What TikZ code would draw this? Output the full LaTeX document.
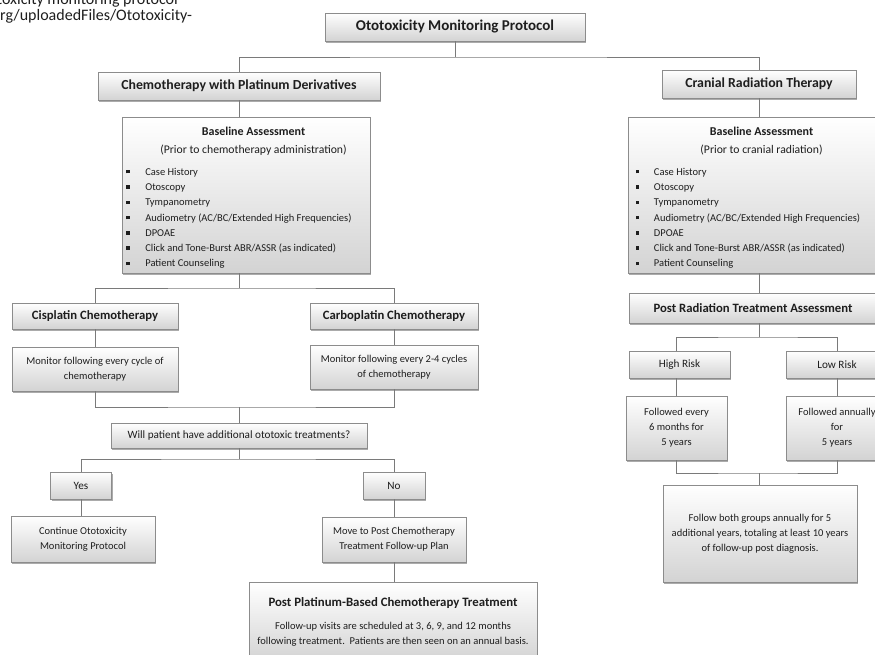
\documentclass[tikz,border=0pt]{standalone}
\usepackage{fontspec}
\setmainfont{Carlito}
\usepackage{tikz}
\usetikzlibrary{calc,shadows}
\definecolor{linegray}{HTML}{7A7A7A}
\definecolor{boxline}{HTML}{8C8C8C}
\definecolor{boxlow}{HTML}{D3D3D3}
\definecolor{inktext}{HTML}{1E1E1E}
\newcommand{\blt}{\rule[1.8pt]{3.4pt}{3.4pt}}

\begin{document}
\begin{tikzpicture}[x=1pt, y=-1pt,
  box/.style={draw=boxline, line width=0.7pt, top color=white, bottom color=boxlow, align=center, inner sep=2pt,
    text=inktext, font=\fontsize{10.5}{15}\selectfont,
    drop shadow={shadow xshift=1.2pt, shadow yshift=-1.8pt, fill=black!55, opacity=0.6}},
  head/.style={box, font=\bfseries\fontsize{12.7}{15}\selectfont},
  mid/.style={box, font=\fontsize{11.2}{14}\selectfont},
  link/.style={draw=linegray, line width=0.8pt}
]
  \useasboundingbox (0,0) rectangle (875,655);
  \clip (0,0) rectangle (875,655);

  % cut-off source line, top left
  \node[anchor=base east, inner sep=0, text=inktext, font=\fontsize{16}{18}\selectfont] (src1) at (178,5) {Ototoxicity monitoring protocol};
  \node[anchor=base west, inner sep=0, text=inktext, font=\fontsize{16}{18}\selectfont] (src2) at (0,21) {rg/uploadedFiles/Ototoxicity-};

  % top of the tree
  \node[head, font=\bfseries\fontsize{15}{17}\selectfont, minimum width=260, minimum height=28] (title) at (455,27) {Ototoxicity Monitoring Protocol};
  \node[head, font=\bfseries\fontsize{13.8}{16}\selectfont, minimum width=282, minimum height=28] (chemo) at (239,86) {Chemotherapy with Platinum Derivatives};
  \node[head, font=\bfseries\fontsize{13.8}{16}\selectfont, minimum width=194, minimum height=28] (cranial) at (759,84) {Cranial Radiation Therapy};

  % baseline assessments
  \node[box, minimum width=248, minimum height=156] (baseL) at (246,195) {%
    \renewcommand{\arraystretch}{1.02}%
    \raisebox{-3pt}[\height][\depth]{\begin{tabular}{@{}p{19pt}@{}l@{}}
      & \multicolumn{1}{c}{\hspace{9pt}\fontsize{12}{14}\selectfont\bfseries Baseline Assessment}\\[2.7pt]
      & \multicolumn{1}{c}{\hspace{9pt}\fontsize{11.7}{14}\selectfont (Prior to chemotherapy administration)}\\[6.7pt]
      \blt & Case History\\
      \blt & Otoscopy\\
      \blt & Tympanometry\\
      \blt & Audiometry (AC/BC/Extended High Frequencies)\\
      \blt & DPOAE\\
      \blt & Click and Tone-Burst ABR/ASSR (as indicated)\\
      \blt & Patient Counseling
    \end{tabular}}\hspace*{13pt}};
  \node[box, minimum width=250, minimum height=156] (baseR) at (753,195) {%
    \renewcommand{\arraystretch}{1.02}%
    \raisebox{-3pt}[\height][\depth]{\begin{tabular}{@{}p{18pt}@{}l@{}}
      & \multicolumn{1}{c}{\hspace{9pt}\fontsize{12}{14}\selectfont\bfseries Baseline Assessment}\\[2.7pt]
      & \multicolumn{1}{c}{\hspace{9pt}\fontsize{11.7}{14}\selectfont (Prior to cranial radiation)}\\[6.7pt]
      \blt & Case History\\
      \blt & Otoscopy\\
      \blt & Tympanometry\\
      \blt & Audiometry (AC/BC/Extended High Frequencies)\\
      \blt & DPOAE\\
      \blt & Click and Tone-Burst ABR/ASSR (as indicated)\\
      \blt & Patient Counseling
    \end{tabular}}\hspace*{10pt}};

  % chemotherapy branch
  \node[head, minimum width=166, minimum height=26] (cis) at (95,316) {Cisplatin Chemotherapy};
  \node[head, minimum width=168, minimum height=26] (carbo) at (394,316) {Carboplatin Chemotherapy};
  \node[box, minimum width=166, minimum height=44] (monL) at (95,369) {Monitor following every cycle of\\chemotherapy};
  \node[box, minimum width=168, minimum height=44] (monR) at (394,367) {Monitor following every 2-4 cycles\\of chemotherapy};
  \node[mid, minimum width=256, minimum height=25] (will) at (239,435.5) {Will patient have additional ototoxic treatments?};
  \node[mid, minimum width=61, minimum height=27] (yes) at (81,485.5) {Yes};
  \node[mid, minimum width=62, minimum height=27] (no) at (394,485.5) {No};
  \node[box, minimum width=144, minimum height=46] (cont) at (83,539) {Continue Ototoxicity\\Monitoring Protocol};
  \node[box, minimum width=144, minimum height=45] (move) at (394,539.5) {Move to Post Chemotherapy\\Treatment Follow-up Plan};
  \node[box, minimum width=288, minimum height=80] (post) at (393,622) {{\fontsize{12.8}{15}\selectfont\bfseries Post Platinum-Based Chemotherapy Treatment}\\[8pt]
    Follow-up visits are scheduled at 3, 6, 9, and 12 months\\following treatment.\ \ Patients are then seen on an annual basis.};

  % radiation branch
  \node[head, minimum width=248, minimum height=30] (postrad) at (753,308) {Post Radiation Treatment Assessment};
  \node[mid, minimum width=101, minimum height=27] (high) at (679.5,364.5) {High Risk};
  \node[mid, minimum width=102, minimum height=27] (low) at (837,364.5) {Low Risk};
  \node[box, minimum width=101, minimum height=64] (followL) at (676.5,428) {Followed every\\6 months for\\5 years};
  \node[box, minimum width=102, minimum height=64] (followR) at (837,428) {Followed annually\\for\\5 years};
  \node[box, minimum width=194, minimum height=97] (final) at (760,533.5) {Follow both groups annually for 5\\additional years, totaling at least 10 years\\of follow-up post diagnosis.};

  % junction points
  \coordinate (j1) at (458,57);
  \coordinate (j2) at (239,288);
  \coordinate (j3) at (239,407);
  \coordinate (j4) at (239,459);
  \coordinate (j5) at (759,337);
  \coordinate (j6) at (759,473);

  \draw[link] (title.south) -- (title.south |- j1);
  \draw[link] (chemo.north) |- (j1) -| (cranial.north);
  \draw[link] (chemo.south) -- (chemo.south |- baseL.north);
  \draw[link] (cranial.south) -- (cranial.south |- baseR.north);
  \draw[link] (baseL.south -| j2) -- (j2);
  \draw[link] (cis.north) |- (j2) -| (carbo.north);
  \draw[link] (cis) -- (monL);
  \draw[link] (carbo) -- (monR);
  \draw[link] (monL.south) |- (j3) -| (monR.south);
  \draw[link] (j3) -- (will.north -| j3);
  \draw[link] (will.south -| j4) -- (j4);
  \draw[link] (yes.north) |- (j4) -| (no.north);
  \draw[link] (yes.south) -- (yes.south |- cont.north);
  \draw[link] (no) -- (move);
  \draw[link] (move.south) -- (move.south |- post.north);
  \draw[link] (baseR.south -| j5) -- (postrad.north -| j5);
  \draw[link] (postrad.south -| j5) -- (j5);
  \draw[link] (high.north -| followL) |- (j5) -| (low.north);
  \draw[link] (high.south -| followL) -- (followL.north);
  \draw[link] (low) -- (followR);
  \draw[link] (followL.south) |- (j6) -| (followR.south);
  \draw[link] (j6) -- (final.north -| j6);
\end{tikzpicture}
\end{document}
